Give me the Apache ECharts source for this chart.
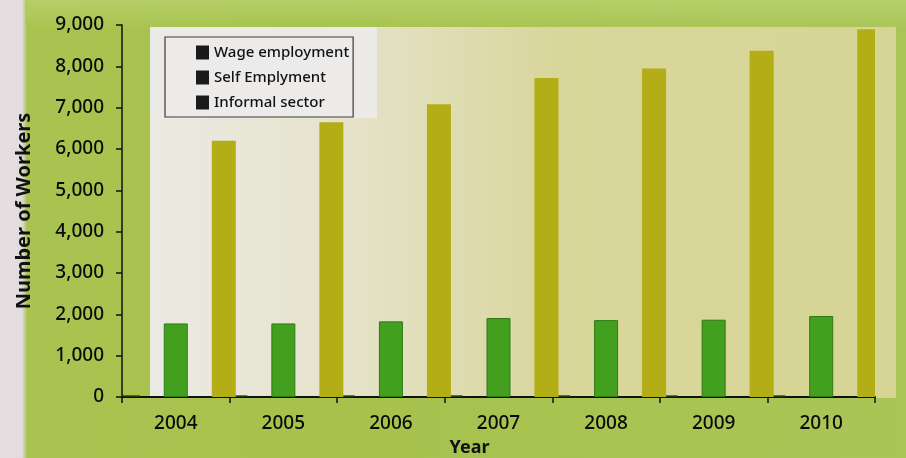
<!DOCTYPE html>
<html>
<head>
<meta charset="utf-8">
<script src="https://cdn.jsdelivr.net/npm/echarts@6/dist/echarts.min.js"></script>
<style>
html,body{margin:0;padding:0;width:906px;height:458px;overflow:hidden;}
body{background:linear-gradient(90deg,#e6dfe2 0px,#e2dcde 22px,#a9c350 27px,#a6c24c 300px,#a9c556 906px);}
#topfade{position:absolute;left:27px;top:0;width:879px;height:30px;background:linear-gradient(180deg,rgba(190,215,120,0.6),rgba(190,215,120,0));}
#panel{position:absolute;left:150px;top:27px;width:746px;height:371px;background:linear-gradient(90deg,#ebeae3 0%,#e6e3cc 25%,#d8d69a 55%,#d7d595 100%);}
#legpanel{position:absolute;left:150px;top:27px;width:227px;height:91px;background:#eceae6;}
#chart{position:absolute;left:0;top:0;width:906px;height:458px;}
</style>
</head>
<body>
<div id="topfade"></div>
<div id="panel"></div>
<div id="legpanel"></div>
<div id="chart"></div>
<script>
const years = ['2004','2005','2006','2007','2008','2009','2010'];
const wageEmployment = [40, 40, 40, 40, 40, 40, 40];
const selfEmployment = [1780, 1780, 1830, 1910, 1860, 1870, 1960];
const informalSector = [6200, 6650, 7080, 7720, 7950, 8380, 8900];
const yTicks = [0, 1000, 2000, 3000, 4000, 5000, 6000, 7000, 8000, 9000];

const font = 'Noto Sans';
const chart = echarts.init(document.getElementById('chart'));
chart.setOption({
  backgroundColor: 'transparent',
  animation: false,
  textStyle: {fontFamily: font},
  legend: {
    orient: 'vertical',
    left: 165, top: 37,
    backgroundColor: '#ecebea',
    borderColor: '#3a3a3a', borderWidth: 1.2,
    padding: [8, 4, 7, 31],
    itemWidth: 13, itemHeight: 14, itemGap: 10,
    icon: 'rect',
    textStyle: {fontFamily: font, fontSize: 15, fontWeight: 500, lineHeight: 14, color: '#111'},
    data: [
      {name: 'Wage employment', itemStyle: {color: '#1a1a1a', borderWidth: 0}},
      {name: 'Self Emplyment', itemStyle: {color: '#1a1a1a', borderWidth: 0}},
      {name: 'Informal sector', itemStyle: {color: '#1a1a1a', borderWidth: 0}}
    ]
  },
  grid: {left: 122, right: 31, top: 25, bottom: 61, outerBoundsMode: 'none', containLabel: false},
  xAxis: {
    type: 'category',
    data: years,
    name: 'Year',
    nameLocation: 'middle',
    nameGap: 42,
    nameTextStyle: {fontFamily: font, fontSize: 18, fontWeight: 'bold', color: '#111', padding: [0, 58, 0, 0]},
    axisLine: {lineStyle: {color: '#111', width: 2}},
    axisTick: {show: true, length: 6, lineStyle: {color: '#111', width: 1.5}},
    axisLabel: {fontFamily: font, fontSize: 19, fontWeight: 500, color: '#0a0a0a', margin: 17}
  },
  yAxis: {
    type: 'value',
    min: 0, max: 9000, interval: 1000,
    name: 'Number of Workers',
    nameLocation: 'middle',
    nameGap: 88,
    nameTextStyle: {fontFamily: font, fontSize: 20, fontWeight: 'bold', color: '#111'},
    axisLine: {show: true, lineStyle: {color: '#111', width: 1.5}},
    axisTick: {show: true, length: 6, lineStyle: {color: '#111', width: 1.5}},
    splitLine: {show: false},
    axisLabel: {
      fontFamily: font, fontSize: 19, fontWeight: 500, color: '#0a0a0a', margin: 18,
      formatter: v => yTicks.includes(v) ? v.toLocaleString('en-US') : ''
    }
  },
  series: [
    {name: 'Wage employment', type: 'bar', data: wageEmployment, barWidth: 24, barGap: '100%',
     itemStyle: {color: '#25330e'}},
    {name: 'Self Emplyment', type: 'bar', data: selfEmployment, barWidth: 24, barGap: '100%',
     itemStyle: {color: '#42a01e', borderColor: '#2f7a14', borderWidth: 1}},
    {name: 'Informal sector', type: 'bar', data: informalSector, barWidth: 24, barGap: '100%',
     itemStyle: {color: '#b3ad16'}}
  ]
});
</script>
</body>
</html>
